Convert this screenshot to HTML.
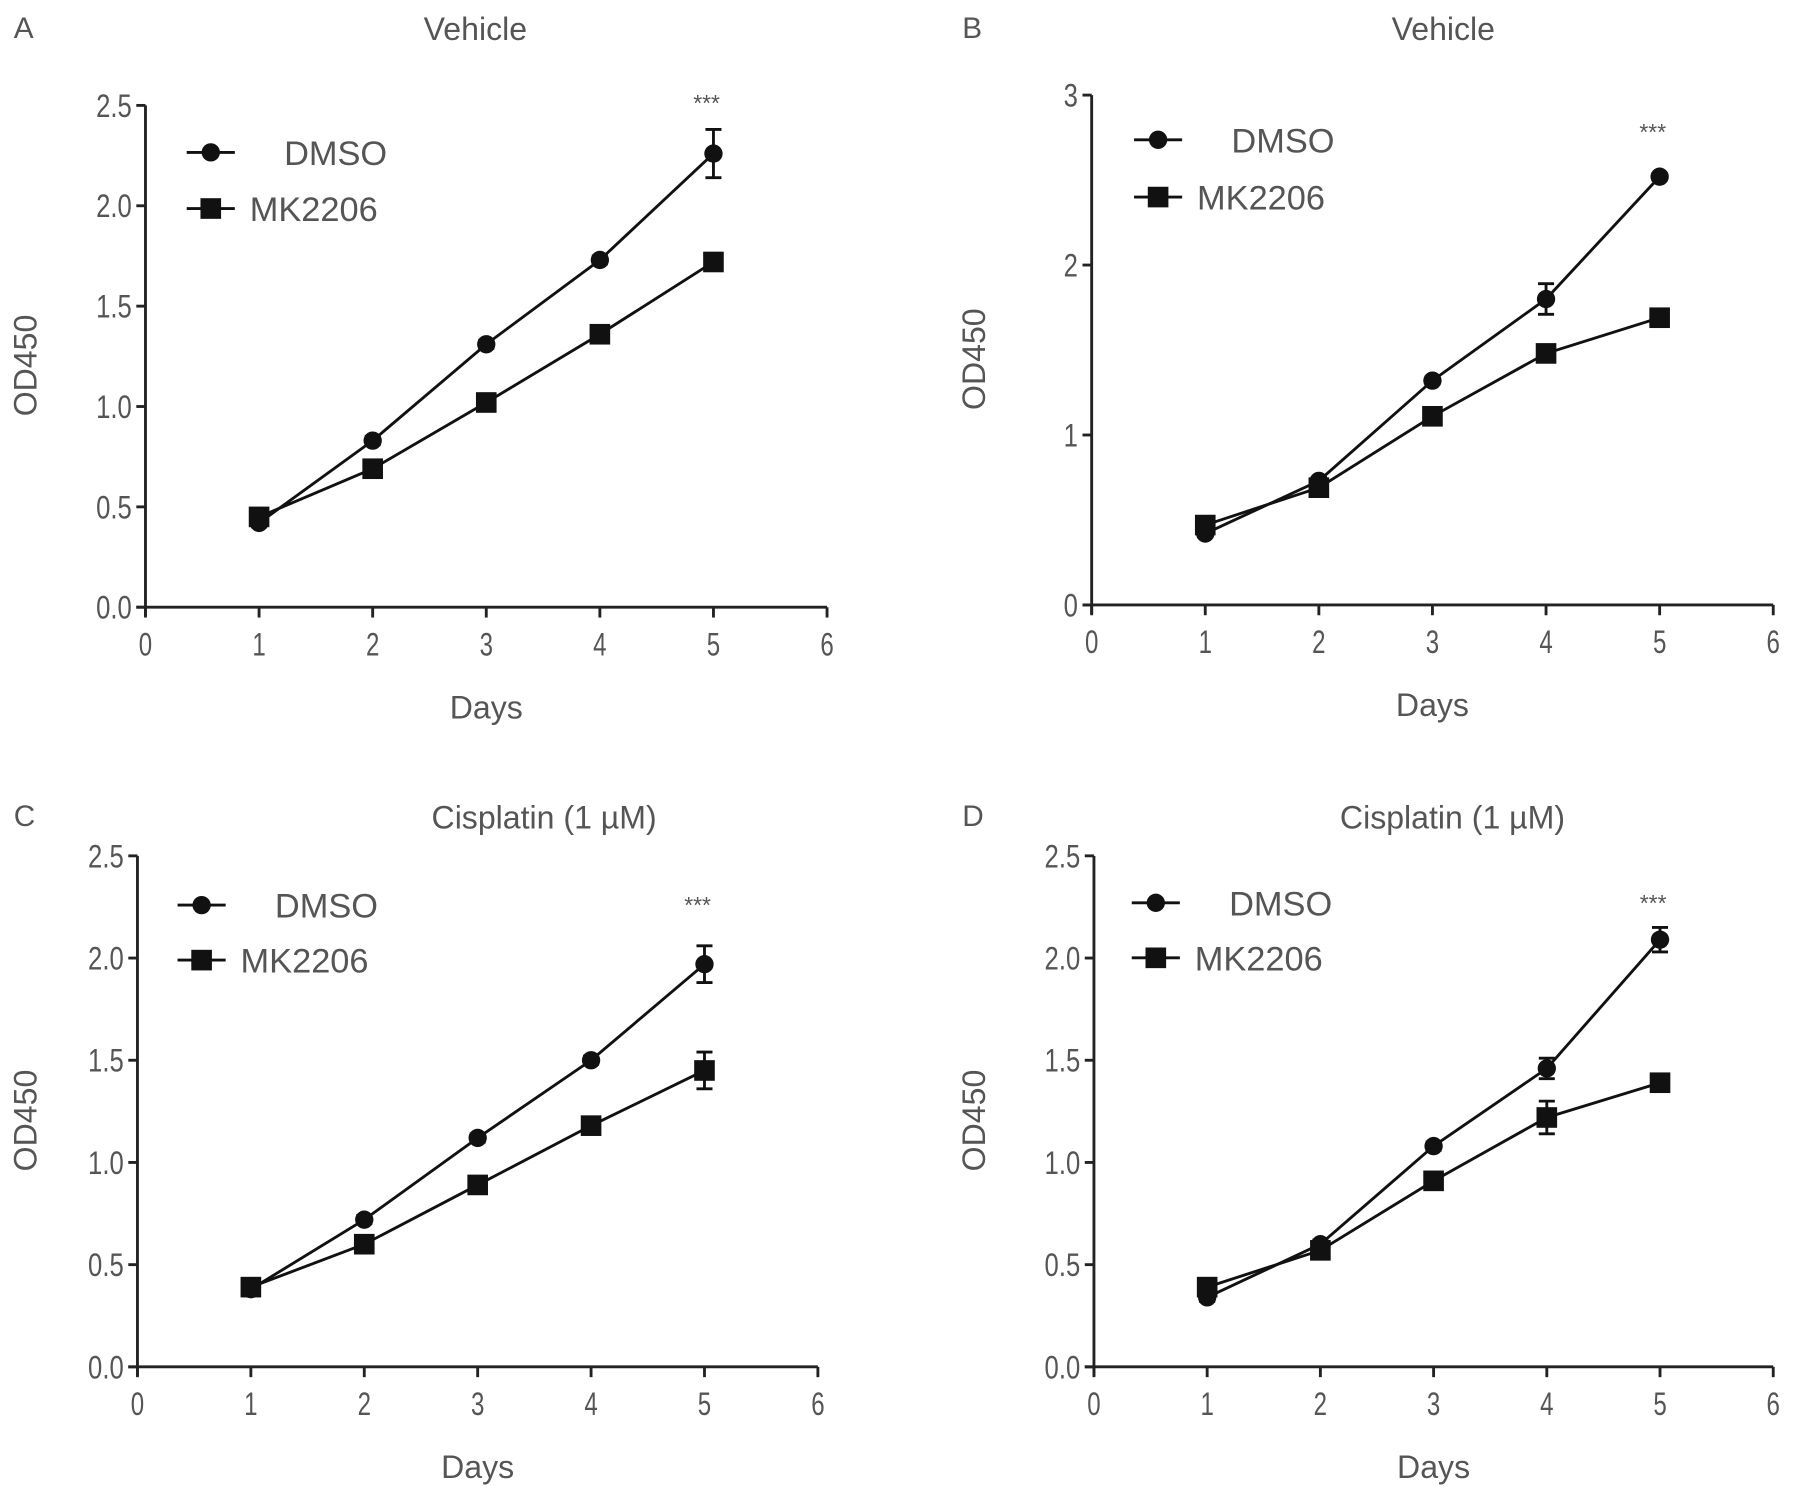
<!DOCTYPE html>
<html><head><meta charset="utf-8"><style>
html,body{margin:0;padding:0;background:#fff;}
svg{display:block;font-family:"Liberation Sans",sans-serif;}
</style></head><body>
<svg id="fig" width="1795" height="1486" viewBox="0 0 1567 1297" preserveAspectRatio="none" xmlns="http://www.w3.org/2000/svg"></svg>
<script>
const days = [1,2,3,4,5];
const xTicks = [0,1,2,3,4,5,6];
const yTicksA = ["0.0","0.5","1.0","1.5","2.0","2.5"];
const yTicksB = ["0","1","2","3"];
const dmsoA = [0.42,0.83,1.31,1.73,2.26];
const dmsoErrA = [0.02,0.02,0.02,0.02,0.12];
const mkA = [0.45,0.69,1.02,1.36,1.72];
const mkErrA = [0.02,0.02,0.02,0.02,0.03];
const dmsoB = [0.42,0.73,1.32,1.80,2.52];
const dmsoErrB = [0.02,0.02,0.02,0.09,0.02];
const mkB = [0.47,0.69,1.11,1.48,1.69];
const mkErrB = [0.02,0.02,0.02,0.02,0.02];
const dmsoC = [0.38,0.72,1.12,1.50,1.97];
const dmsoErrC = [0.02,0.02,0.02,0.02,0.09];
const mkC = [0.39,0.60,0.89,1.18,1.45];
const mkErrC = [0.02,0.02,0.02,0.02,0.09];
const dmsoD = [0.34,0.60,1.08,1.46,2.09];
const dmsoErrD = [0.02,0.02,0.02,0.05,0.06];
const mkD = [0.39,0.57,0.91,1.22,1.39];
const mkErrD = [0.02,0.02,0.02,0.08,0.02];

const NS="http://www.w3.org/2000/svg";
const svg=document.getElementById('fig');
function mk(tag,attrs,parent){const e=document.createElementNS(NS,tag);for(const k in attrs)e.setAttribute(k,attrs[k]);(parent||svg).appendChild(e);return e;}
function txt(s,x,y,size,parent,anchor,extra){const t=mk('text',Object.assign({x:x,y:y,'font-size':size,fill:'#555','text-anchor':anchor||'middle'},extra||{}),parent);t.textContent=s;return t;}

function panel(p){
  const g=mk('g',{});
  
  
  const X=v=>p.x0+(v-0)*(p.x6-p.x0)/6;
  const Y=v=>p.y0-(v/p.ymax)*(p.y0-p.ytop);
  const l=txt(p.letter,p.lx,p.ly,26,g,'start');
  
  const t=txt(p.title,p.tx,p.ly+2,28,g);
  
  const ya=mk('line',{x1:p.x0,y1:p.ytop,x2:p.x0,y2:p.y0+8,stroke:'#222','stroke-width':2.5},g);
  
  const xa=mk('line',{x1:p.x0-8,y1:p.y0,x2:p.x6,y2:p.y0,stroke:'#222','stroke-width':2.5},g);
  
  p.yticks.forEach((s,i)=>{
    const v=parseFloat(s);const yy=Y(v);
    mk('line',{x1:p.x0-8,y1:yy,x2:p.x0,y2:yy,stroke:'#222','stroke-width':2.5},g);
    const tl=txt(s,p.x0-12,yy+10,28,g,'end',{transform:`translate(${p.x0-12},0) scale(0.8,1) translate(${-(p.x0-12)},0)`});
    
  });
  xTicks.forEach(v=>{
    const xx=X(v);
    mk('line',{x1:xx,y1:p.y0,x2:xx,y2:p.y0+9,stroke:'#222','stroke-width':2.5},g);
    const tl=txt(String(v),xx,p.y0+42,28,g,'middle',{transform:`translate(${xx},0) scale(0.75,1) translate(${-xx},0)`});
    
  });
  const xt=txt('Days',(p.x0+p.x6)/2,p.y0+97,28,g);
  
  const yt=txt('OD450',0,0,28,g,'middle',{transform:`translate(${p.ylx},${(p.ytop+p.y0)/2+8}) rotate(-90)`});
  
  const series=[{n:'dmso',v:p.d,e:p.de,shape:'circle'},{n:'mk2206',v:p.m,e:p.me,shape:'square'}];
  series.forEach(s=>{
    const pts=days.map((d,i)=>X(d)+','+Y(s.v[i])).join(' ');
    const pl=mk('polyline',{points:pts,fill:'none',stroke:'#111','stroke-width':2.5},g);
    
    days.forEach((d,i)=>{
      const cx=X(d),cy=Y(s.v[i]);
      const hi=Y(s.v[i]+s.e[i]),lo=Y(s.v[i]-s.e[i]);
      const eb=mk('path',{d:`M${cx},${hi}V${lo}M${cx-7},${hi}H${cx+7}M${cx-7},${lo}H${cx+7}`,stroke:'#111','stroke-width':2.5,fill:'none'},g);
      
      let m;
      if(s.shape==='circle') m=mk('circle',{cx:cx,cy:cy,r:8,fill:'#111'},g);
      else m=mk('rect',{x:cx-9,y:cy-9,width:18,height:18,fill:'#111'},g);
      
    });
  });
  [[p.leg1,'DMSO','circle'],[p.leg2,'MK2206','square']].forEach(([ly,lab,sh])=>{
    const lg=mk('g',{},g);
    
    mk('line',{x1:p.legx,y1:ly,x2:p.legx+42,y2:ly,stroke:'#111','stroke-width':2.5},lg);
    if(sh==='circle') mk('circle',{cx:p.legx+21,cy:ly,r:8,fill:'#111'},lg);
    else mk('rect',{x:p.legx+12,y:ly-9,width:18,height:18,fill:'#111'},lg);
    txt(lab,p.legx+(sh==='circle'?85:55),ly+11,30,lg,'start');
  });
  const st=txt('***',X(5)-6,p.stary,20,g);
  
}
panel({letter:'A',title:'Vehicle',lx:12,ly:33,tx:415,x0:127,x6:722,y0:530,ytop:92,ymax:2.5,yticks:yTicksA,ylx:32,d:dmsoA,de:dmsoErrA,m:mkA,me:mkErrA,legx:163,leg1:133,leg2:182,stary:97});
panel({letter:'B',title:'Vehicle',lx:840,ly:33,tx:1260,x0:953,x6:1548,y0:528,ytop:83,ymax:3,yticks:yTicksB,ylx:860,d:dmsoB,de:dmsoErrB,m:mkB,me:mkErrB,legx:990,leg1:122,leg2:172,stary:122});
panel({letter:'C',title:'Cisplatin (1 µM)',lx:12,ly:721,tx:475,x0:120,x6:714,y0:1193,ytop:747,ymax:2.5,yticks:yTicksA,ylx:32,d:dmsoC,de:dmsoErrC,m:mkC,me:mkErrC,legx:155,leg1:790,leg2:838,stary:797});
panel({letter:'D',title:'Cisplatin (1 µM)',lx:840,ly:721,tx:1268,x0:955,x6:1548,y0:1193,ytop:747,ymax:2.5,yticks:yTicksA,ylx:860,d:dmsoD,de:dmsoErrD,m:mkD,me:mkErrD,legx:988,leg1:788,leg2:836,stary:795});
</script>
</body></html>
